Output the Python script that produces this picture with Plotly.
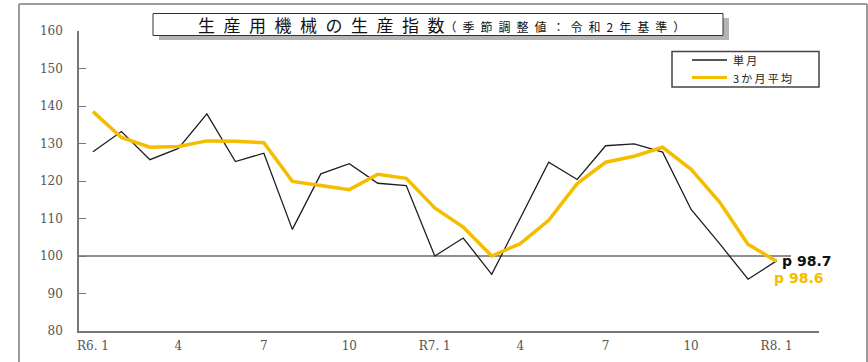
import plotly.graph_objects as go

# Monthly production index of production machinery (seasonally adjusted, base year Reiwa 2)
months = list(range(25))  # R6.1 ... R8.1
single_month = [127.8, 133.2, 125.7, 128.7, 137.9, 125.2, 127.4, 107.1, 121.9, 124.6,
                119.4, 118.8, 100.0, 104.8, 95.1, 110.1, 125.0, 120.4, 129.4, 129.9,
                127.7, 112.4, 103.3, 93.8, 98.7]
three_month_avg = [138.5, 131.6, 129.0, 129.2, 130.7, 130.6, 130.2, 119.9, 118.8, 117.7,
                   121.8, 120.7, 112.8, 107.7, 100.0, 103.3, 109.5, 119.3, 125.0, 126.6,
                   129.0, 123.1, 114.4, 103.1, 98.6]
tick_positions = [0, 3, 6, 9, 12, 15, 18, 21, 24]
tick_labels = ["R6. 1", "4", "7", "10", "R7. 1", "4", "7", "10", "R8. 1"]
series_names = ["単月", "3か月平均"]

W, H = 868, 362
L, R, T, B = 79, 49, 31, 31
PW, PH = W - L - R, H - T - B

BLACK = "#1e1e1e"
YELLOW = "#F4BD00"
AXIS = "#777777"


def px(x):
    return (x - L) / PW


def py(y):
    return (H - B - y) / PH


fig = go.Figure()
fig.add_trace(go.Scatter(x=months, y=single_month, mode="lines", name=series_names[0],
                         line=dict(color=BLACK, width=1.3), showlegend=False))
fig.add_trace(go.Scatter(x=months, y=three_month_avg, mode="lines", name=series_names[1],
                         line=dict(color=YELLOW, width=3.5), showlegend=False))

shapes = []
# outer frame
frame = dict(type="line", xref="paper", yref="paper", line=dict(color="#9c9c9c", width=2))
shapes.append({**frame, "x0": px(19), "x1": px(19), "y0": py(4), "y1": py(H + 5)})
shapes.append({**frame, "x0": px(19), "x1": px(867), "y0": py(4), "y1": py(4)})
shapes.append({**frame, "x0": px(867), "x1": px(867), "y0": py(4), "y1": py(H + 5)})

# 100 reference line
shapes.append(dict(type="line", xref="paper", yref="y", x0=0, x1=px(791), y0=100, y1=100,
                   line=dict(color="#6a6a6a", width=1.5), layer="below"))

# title box with drop shadow
shapes.append(dict(type="rect", xref="paper", yref="paper",
                   x0=px(159), x1=px(729), y0=py(40), y1=py(18),
                   fillcolor="#b4b4b4", line=dict(width=0)))
shapes.append(dict(type="rect", xref="paper", yref="paper",
                   x0=px(153), x1=px(723), y0=py(35.5), y1=py(13.5),
                   fillcolor="white", line=dict(color="#333333", width=1)))

# legend box and samples
shapes.append(dict(type="rect", xref="paper", yref="paper",
                   x0=px(672), x1=px(819), y0=py(87), y1=py(51.5),
                   fillcolor="white", line=dict(color="#444444", width=1.5)))
shapes.append(dict(type="line", xref="paper", yref="paper",
                   x0=px(692), x1=px(727), y0=py(60), y1=py(60),
                   line=dict(color=BLACK, width=1.3)))
shapes.append(dict(type="line", xref="paper", yref="paper",
                   x0=px(692), x1=px(727), y0=py(77.5), y1=py(77.5),
                   line=dict(color=YELLOW, width=3)))

cjk = "Noto Sans CJK JP"
sp = "\u2002"
title_main = sp.join("生産用機械の生産指数")
title_sub = sp.join("（季節調整値：令和2年基準）")

annotations = [
    dict(xref="paper", yref="paper", x=px(441), y=py(24.5), xanchor="center", yanchor="middle",
         showarrow=False,
         text=f"{title_main}<span style='font-size:12px'>{title_sub}</span>",
         font=dict(family=cjk, size=17, color="#111111")),
    dict(xref="paper", yref="paper", x=px(731), y=py(60), xanchor="left", yanchor="middle",
         showarrow=False, text="\u2009".join(series_names[0]),
         font=dict(family=cjk, size=11, color="#222222")),
    dict(xref="paper", yref="paper", x=px(731), y=py(77.5), xanchor="left", yanchor="middle",
         showarrow=False, text="\u2009".join(series_names[1]),
         font=dict(family=cjk, size=11, color="#222222")),
    dict(x=months[-1], y=single_month[-1], xanchor="left", yanchor="middle",
         xshift=3, yshift=0, showarrow=False, text=f"p {single_month[-1]:.1f}",
         font=dict(family="DejaVu Sans", size=14, color="#111111", weight="bold")),
    dict(x=months[-1], y=three_month_avg[-1], xanchor="left", yanchor="middle",
         xshift=-5, yshift=-17, showarrow=False, text=f"p {three_month_avg[-1]:.1f}",
         font=dict(family="DejaVu Sans", size=14, color=YELLOW, weight="bold")),
]

fig.update_layout(
    width=W, height=H,
    margin=dict(l=L, r=R, t=T, b=B, pad=0, autoexpand=False),
    paper_bgcolor="white", plot_bgcolor="white",
    showlegend=False,
    shapes=shapes,
    annotations=annotations,
    xaxis=dict(range=[-0.49, 25.49], tickmode="array", tickvals=tick_positions,
               ticktext=tick_labels, showgrid=False, zeroline=False, automargin=False,
               showline=True, linecolor=AXIS, linewidth=1.5, ticks="",
               ticklabelstandoff=3,
               tickfont=dict(family="DejaVu Serif", size=12, color="#555555")),
    yaxis=dict(range=[80, 160], dtick=10, showgrid=False, zeroline=False, automargin=False,
               showline=True, linecolor=AXIS, linewidth=1.5,
               ticks="inside", ticklen=7, tickcolor=AXIS, tickwidth=1.2,
               ticklabelstandoff=12,
               tickfont=dict(family="DejaVu Serif", size=12, color="#555555")),
)

fig.write_html("out.html")
